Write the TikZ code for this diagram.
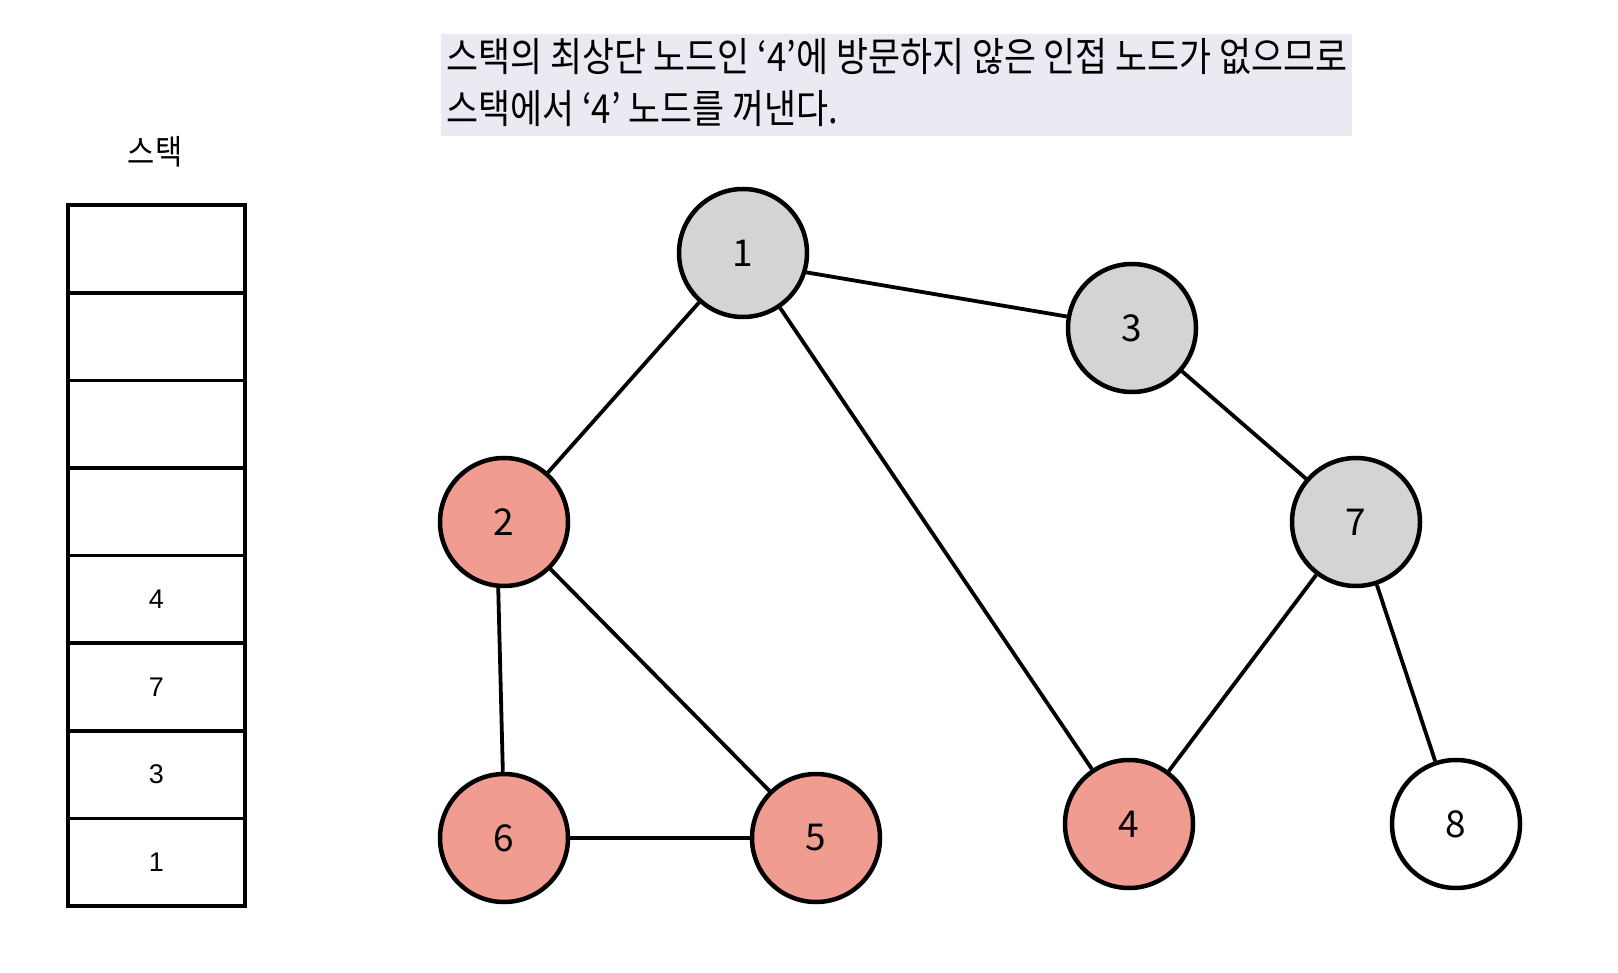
\documentclass[tikz,border=0pt]{standalone}
\usepackage{fontspec}
\setsansfont{Liberation Sans}
\newfontfamily\kr{Noto Sans CJK KR}
\newfontfamily\krnarrow[FakeStretch=0.87]{Noto Sans CJK KR}
\usepackage{tikz}
\usetikzlibrary{positioning}
\definecolor{visited}{RGB}{212,212,212}
\definecolor{popped}{RGB}{241,156,144}
\definecolor{notebg}{RGB}{236,233,243}
\tikzset{
  vertex/.style={circle, draw=black, line width=4.5pt, minimum size=128pt, inner sep=0pt, font=\kr\fontsize{37}{37}\selectfont},
  cell/.style={rectangle, draw=black, line width=3.5pt, minimum width=177pt, minimum height=87.6pt, inner sep=0pt, font=\sffamily\fontsize{27}{27}\selectfont},
  edge/.style={line width=3.8pt}
}

\begin{document}
\begin{tikzpicture}[x=1pt, y=-1pt]
    \useasboundingbox (0,0) rectangle (1618,973);

    % 스택
    \node[font=\krnarrow\fontsize{34}{34}\selectfont] (stacklabel) at (155,152) {스택};
    \foreach \i/\val in {0/1, 1/3, 2/7, 3/4, 4/, 5/, 6/, 7/} {
        \node[cell] (s\i) at (156.5, {862.2-\i*87.6}) {\val};
    }

    % 설명
    \node[fill=notebg, minimum width=911pt, minimum height=102pt, inner sep=0pt] (note) at (896.5,85) {};
    \node[anchor=west, inner sep=0pt, font=\krnarrow\fontsize{40}{40}\selectfont] (line1) at (446,57) {스택의 최상단 노드인 ‘4’에 방문하지 않은 인접 노드가 없으므로};
    \node[anchor=west, inner sep=0pt, font=\krnarrow\fontsize{40}{40}\selectfont] (line2) at (446,109) {스택에서 ‘4’ 노드를 꺼낸다.};

    % 그래프
    \node[vertex, fill=visited] (n1) at (743,253) {1};
    \node[vertex, fill=visited] (n3) at (1132,328) {3};
    \node[vertex, fill=popped] (n2) at (504,522) {2};
    \node[vertex, fill=visited] (n7) at (1356,522) {7};
    \node[vertex, fill=popped] (n6) at (504,838) {6};
    \node[vertex, fill=popped] (n5) at (816,838) {5};
    \node[vertex, fill=popped] (n4) at (1129,824) {4};
    \node[vertex, fill=white] (n8) at (1456,824) {8};

    \draw[edge] (n1.-17) -- (n3.170);
    \draw[edge] (n2.-95) -- (n6.91);
    \foreach \a/\b in {n1/n2, n1/n4, n3/n7, n2/n5, n6/n5, n7/n4, n7/n8} {
        \draw[edge] (\a) -- (\b);
    }

\end{tikzpicture}
\end{document}
